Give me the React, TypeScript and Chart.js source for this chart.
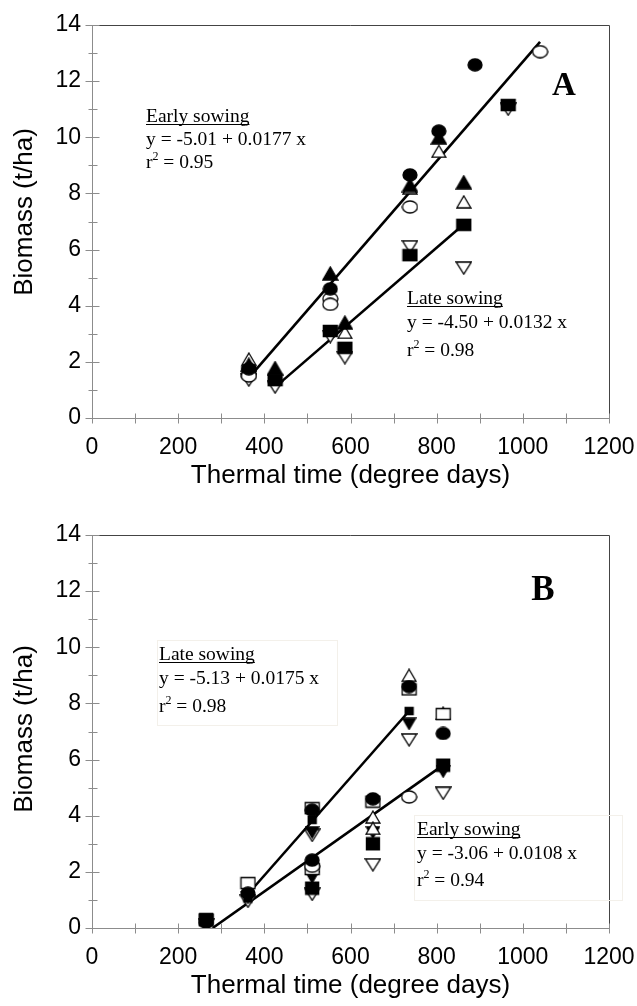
import React, { useEffect, useRef } from 'react';
import { Chart, registerables } from 'chart.js';

Chart.register(...registerables);

// ---------------- shared axes ----------------
const xTickValues = [0, 200, 400, 600, 800, 1000, 1200];
const xMinorValues = [100, 300, 500, 700, 900, 1100];
const yTickValues = [0, 2, 4, 6, 8, 10, 12, 14];
const yMinorValues = [1, 3, 5, 7, 9, 11, 13];
const xTitle = 'Thermal time (degree days)';
const yTitle = 'Biomass (t/ha)';

// ---------------- Panel A data ----------------
const aFilledCircleX = [364, 553, 738, 805, 889];
const aFilledCircleY = [1.75, 4.6, 8.66, 10.22, 12.58];
const aOpenCircleX = [364, 553, 553, 738, 1040];
const aOpenCircleY = [1.5, 4.25, 4.05, 7.52, 13.05];
const aFilledTriX = [364, 425, 553, 587, 738, 805, 863];
const aFilledTriY = [1.9, 1.78, 5.15, 3.4, 8.3, 10.0, 8.4];
const aOpenTriX = [364, 587, 738, 805, 863];
const aOpenTriY = [2.1, 3.05, 8.2, 9.5, 7.7];
const aFilledSqX = [364, 425, 553, 587, 738, 863, 966];
const aFilledSqY = [1.65, 1.35, 3.1, 2.5, 5.8, 6.88, 11.15];
const aOpenInvTriX = [364, 425, 553, 587, 738, 863, 966];
const aOpenInvTriY = [1.35, 1.1, 2.9, 2.15, 6.1, 5.34, 11.0];
const aEarlyLineX = [364, 1040];
const aEarlyLineY = [1.43, 13.4];
const aLateLineX = [425, 863];
const aLateLineY = [1.1, 6.9];

// ---------------- Panel B data ----------------
const bFilledCircleX = [265, 362, 511, 511, 652, 736, 815];
const bFilledCircleY = [0.2, 1.24, 4.2, 2.42, 4.6, 8.6, 6.93];
const bOpenCircleX = [511, 736];
const bOpenCircleY = [2.2, 4.67];
const bOpenSqX = [265, 362, 511, 511, 652, 736, 815];
const bOpenSqY = [0.3, 1.6, 4.27, 2.1, 4.5, 8.5, 7.62];
const bOpenTriX = [652, 652, 736, 815];
const bOpenTriY = [3.95, 3.55, 9.0, 7.65];
const bSmallSqX = [362, 511, 736];
const bSmallSqY = [1.05, 3.85, 7.73];
const bFilledInvTriX = [362, 511, 511, 652, 736, 815];
const bFilledInvTriY = [1.1, 3.4, 1.8, 3.4, 7.27, 5.57];
const bOpenInvTriX = [265, 362, 511, 511, 652, 736, 815];
const bOpenInvTriY = [0.1, 0.95, 3.3, 1.2, 2.25, 6.7, 4.8];
const bFilledSqX = [265, 511, 652, 815];
const bFilledSqY = [0.3, 1.42, 3.0, 5.8];
const bLateLineX = [358, 736];
const bLateLineY = [1.14, 7.73];
const bEarlyLineX = [280, 815];
const bEarlyLineY = [0.0, 5.8];

// ---------------- helpers ----------------
const pts = (xs: number[], ys: number[]) => xs.map((x, i) => ({ x, y: ys[i] }));

function marker(shape: string, filled: boolean, w: number, h: number): HTMLCanvasElement {
  const c = document.createElement('canvas');
  c.width = w + 2;
  c.height = h + 2;
  const ctx = c.getContext('2d') as CanvasRenderingContext2D;
  ctx.fillStyle = filled ? '#000' : '#fff';
  ctx.strokeStyle = '#000';
  ctx.lineWidth = 1.3;
  const cx = c.width / 2;
  const cy = c.height / 2;
  ctx.beginPath();
  if (shape === 'circle') {
    ctx.ellipse(cx, cy, w / 2, h / 2, 0, 0, Math.PI * 2);
  } else if (shape === 'square') {
    ctx.rect(1.5, 1.5, w - 1, h - 1);
  } else if (shape === 'tri') {
    ctx.moveTo(cx, 1);
    ctx.lineTo(w + 1, h + 1);
    ctx.lineTo(1, h + 1);
    ctx.closePath();
  } else {
    ctx.moveTo(1, 1);
    ctx.lineTo(w + 1, 1);
    ctx.lineTo(cx, h + 1);
    ctx.closePath();
  }
  ctx.fill();
  ctx.stroke();
  return c;
}

function scatterSet(data: { x: number; y: number }[], style: HTMLCanvasElement) {
  return {
    data,
    pointStyle: style,
    pointRadius: 7,
    showLine: false,
    borderColor: '#000',
    backgroundColor: '#000',
  };
}

function lineSet(data: { x: number; y: number }[]) {
  return {
    data,
    showLine: true,
    pointRadius: 0,
    borderColor: '#000',
    borderWidth: 2.6,
    fill: false,
  };
}

type Note = { x: number; base: number[]; head: string; eq: string; r: string; box?: number[] };
type PanelCfg = {
  padTop: number;
  xAxisH: number;
  xTitlePad: number;
  yTitleY: number;
  notes: Note[];
  letter: { text: string; x: number; y: number; size: number };
  datasets: any[];
};

const serif = '"Liberation Serif", "Times New Roman", serif';
const sans = '"Liberation Sans", Arial, sans-serif';

const decorPlugin = {
  id: 'decor',
  afterDraw(chart: any, _args: any, opts: any) {
    const cfg: PanelCfg = opts.cfg;
    const ctx: CanvasRenderingContext2D = chart.ctx;
    const xs = chart.scales.x;
    const ys = chart.scales.y;
    const { left, right, top, bottom } = chart.chartArea;
    ctx.save();
    // top & right frame
    ctx.strokeStyle = '#444';
    ctx.lineWidth = 1;
    ctx.beginPath();
    ctx.moveTo(left, Math.round(top) + 0.5);
    ctx.lineTo(Math.round(right) + 0.5, Math.round(top) + 0.5);
    ctx.lineTo(Math.round(right) + 0.5, bottom);
    ctx.stroke();
    // tick marks crossing the axes
    ctx.strokeStyle = '#8c8c8c';
    ctx.beginPath();
    const ax = Math.round(left) + 0.5;
    const ay = Math.round(bottom) + 0.5;
    yTickValues.forEach((v) => {
      const p = Math.round(ys.getPixelForValue(v)) + 0.5;
      ctx.moveTo(ax - 7, p);
      ctx.lineTo(ax + 7, p);
    });
    yMinorValues.forEach((v) => {
      const p = Math.round(ys.getPixelForValue(v)) + 0.5;
      ctx.moveTo(ax - 4, p);
      ctx.lineTo(ax + 5, p);
    });
    xTickValues.concat(xMinorValues).forEach((v) => {
      const p = Math.round(xs.getPixelForValue(v)) + 0.5;
      ctx.moveTo(p, ay - 5);
      ctx.lineTo(p, ay + 5);
    });
    ctx.stroke();
    // y axis title
    ctx.save();
    ctx.translate(25, cfg.yTitleY);
    ctx.rotate(-Math.PI / 2);
    ctx.fillStyle = '#000';
    ctx.font = `26px ${sans}`;
    ctx.textAlign = 'center';
    ctx.textBaseline = 'middle';
    ctx.fillText(yTitle, 0, 0);
    ctx.restore();
    // annotations
    cfg.notes.forEach((n) => {
      if (n.box) {
        ctx.strokeStyle = '#f3f0ea';
        ctx.lineWidth = 1;
        ctx.strokeRect(n.box[0] + 0.5, n.box[1] + 0.5, n.box[2] - n.box[0], n.box[3] - n.box[1]);
      }
      ctx.fillStyle = '#000';
      ctx.textAlign = 'left';
      ctx.textBaseline = 'alphabetic';
      ctx.font = `19.5px ${serif}`;
      ctx.fillText(n.head, n.x, n.base[0]);
      const hw = ctx.measureText(n.head).width;
      ctx.fillRect(n.x, n.base[0] + 2, hw, 1);
      ctx.fillText(n.eq, n.x, n.base[1]);
      ctx.fillText('r', n.x, n.base[2]);
      const rw = ctx.measureText('r').width;
      ctx.font = `12px ${serif}`;
      ctx.fillText('2', n.x + rw, n.base[2] - 8);
      const sw = ctx.measureText('2').width;
      ctx.font = `19.5px ${serif}`;
      ctx.fillText(' = ' + n.r, n.x + rw + sw, n.base[2]);
    });
    const L = cfg.letter;
    ctx.font = `bold ${L.size}px ${serif}`;
    ctx.textAlign = 'center';
    ctx.textBaseline = 'middle';
    ctx.fillText(L.text, L.x, L.y);
    ctx.restore();
  },
};

function makeConfig(cfg: PanelCfg): any {
  return {
    type: 'scatter',
    data: { datasets: cfg.datasets },
    plugins: [decorPlugin],
    options: {
      animation: false,
      responsive: false,
      events: [],
      layout: { padding: { top: cfg.padTop, right: 28, left: 0, bottom: 0 } },
      plugins: {
        legend: { display: false },
        tooltip: { enabled: false },
        decor: { cfg },
      },
      scales: {
        x: {
          type: 'linear',
          min: 0,
          max: 1200,
          afterFit: (s: any) => {
            s.height = cfg.xAxisH;
            s.paddingLeft = 0;
            s.paddingRight = 0;
          },
          afterBuildTicks: (s: any) => {
            s.ticks = xTickValues.map((v) => ({ value: v }));
          },
          grid: { display: false, drawTicks: false },
          border: { display: true, color: '#8c8c8c', width: 1 },
          ticks: {
            padding: 16,
            color: '#000',
            font: { size: 23 },
            maxRotation: 0,
            callback: (v: any) => String(v),
          },
          title: {
            display: true,
            text: xTitle,
            color: '#000',
            font: { size: 26 },
            padding: { top: 0, bottom: cfg.xTitlePad },
          },
        },
        y: {
          type: 'linear',
          min: 0,
          max: 14,
          afterFit: (s: any) => {
            s.width = 92;
            s.paddingTop = 0;
            s.paddingBottom = 0;
          },
          afterBuildTicks: (s: any) => {
            s.ticks = yTickValues.map((v) => ({ value: v }));
          },
          grid: { display: false, drawTicks: false },
          border: { display: true, color: '#8c8c8c', width: 1 },
          ticks: { padding: 11, color: '#000', font: { size: 23 }, callback: (v: any) => String(v) },
          title: { display: false },
        },
      },
    },
  };
}

function Panel({ cfg, top }: { cfg: PanelCfg; top: number }) {
  const ref = useRef<HTMLCanvasElement | null>(null);
  useEffect(() => {
    if (!ref.current) return;
    const chart = new Chart(ref.current, makeConfig(cfg));
    return () => chart.destroy();
  }, [cfg]);
  return (
    <canvas
      ref={ref}
      width={637}
      height={503}
      style={{ position: 'absolute', left: 0, top, width: 637, height: 503, display: 'block' }}
    />
  );
}

Chart.defaults.font.family = sans;

const M = {
  fCircle: marker('circle', true, 14, 12),
  oCircle: marker('circle', false, 15, 12),
  fTri: marker('tri', true, 15, 13),
  oTri: marker('tri', false, 14, 12),
  fSq: marker('square', true, 15, 12),
  oSq: marker('square', false, 15, 12),
  sSq: marker('square', true, 9, 8),
  bSq: marker('square', true, 14, 13),
  oInv: marker('invtri', false, 15, 12),
  fInv: marker('invtri', true, 13, 11),
};

const cfgA: PanelCfg = {
  padTop: 25,
  xAxisH: 85,
  xTitlePad: 12,
  yTitleY: 212,
  notes: [
    { x: 146, base: [122, 145, 168], head: 'Early sowing', eq: 'y = -5.01 + 0.0177 x', r: '0.95' },
    { x: 407, base: [304, 328, 356], head: 'Late sowing', eq: 'y = -4.50 + 0.0132 x', r: '0.98' },
  ],
  letter: { text: 'A', x: 564, y: 86, size: 33 },
  datasets: [
    scatterSet(pts(aFilledCircleX, aFilledCircleY), M.fCircle),
    scatterSet(pts(aOpenCircleX, aOpenCircleY), M.oCircle),
    scatterSet(pts(aFilledTriX, aFilledTriY), M.fTri),
    scatterSet(pts(aOpenTriX, aOpenTriY), M.oTri),
    scatterSet(pts(aFilledSqX, aFilledSqY), M.fSq),
    scatterSet(pts(aOpenInvTriX, aOpenInvTriY), M.oInv),
    lineSet(pts(aEarlyLineX, aEarlyLineY)),
    lineSet(pts(aLateLineX, aLateLineY)),
  ],
};

const cfgB: PanelCfg = {
  padTop: 32,
  xAxisH: 78,
  xTitlePad: 5,
  yTitleY: 226,
  notes: [
    { x: 159, base: [157, 181, 209], head: 'Late sowing', eq: 'y = -5.13 + 0.0175 x', r: '0.98', box: [157, 137, 337, 222] },
    { x: 417, base: [332, 356, 383], head: 'Early sowing', eq: 'y = -3.06 + 0.0108 x', r: '0.94', box: [414, 312, 622, 397] },
  ],
  letter: { text: 'B', x: 543, y: 88, size: 35 },
  datasets: [
    scatterSet(pts(bFilledSqX, bFilledSqY), M.bSq),
    scatterSet(pts(bFilledCircleX, bFilledCircleY), M.fCircle),
    scatterSet(pts(bOpenCircleX, bOpenCircleY), M.oCircle),
    scatterSet(pts(bOpenSqX, bOpenSqY), M.oSq),
    scatterSet(pts(bOpenTriX, bOpenTriY), M.oTri),
    scatterSet(pts(bSmallSqX, bSmallSqY), M.sSq),
    scatterSet(pts(bFilledInvTriX, bFilledInvTriY), M.fInv),
    scatterSet(pts(bOpenInvTriX, bOpenInvTriY), M.oInv),
    lineSet(pts(bLateLineX, bLateLineY)),
    lineSet(pts(bEarlyLineX, bEarlyLineY)),
  ],
};

export default function App() {
  return (
    <div
      style={{
        position: 'absolute',
        left: 0,
        top: 0,
        width: 637,
        height: 1006,
        background: '#fff',
        overflow: 'hidden',
      }}
    >
      <Panel cfg={cfgA} top={0} />
      <Panel cfg={cfgB} top={503} />
    </div>
  );
}
